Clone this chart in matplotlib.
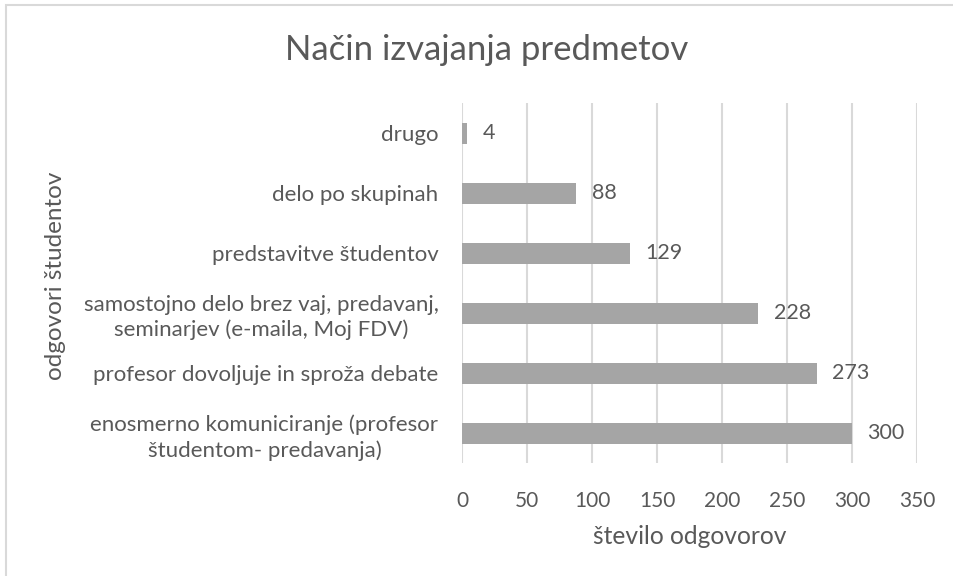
import matplotlib.pyplot as plt
from matplotlib.patches import Rectangle

# --- data ---
categories = [
    "enosmerno komuniciranje (profesor\nštudentom- predavanja)",
    "profesor dovoljuje in sproža debate",
    "samostojno delo brez vaj, predavanj,\nseminarjev (e-maila, Moj FDV)",
    "predstavitve študentov",
    "delo po skupinah",
    "drugo",
]
counts = [300, 273, 228, 129, 88, 4]
x_ticks = [0, 50, 100, 150, 200, 250, 300, 350]

title = "Način izvajanja predmetov"
x_label = "število odgovorov"
y_label = "odgovori študentov"

text_col = "#595959"
bar_col = "#A5A5A5"
grid_col = "#D9D9D9"
plt.rcParams['font.family'] = ['Lato', 'DejaVu Sans']

W, H = 954, 576
fig = plt.figure(figsize=(W / 100, H / 100), dpi=100)

# plot area in pixels: x 462..917, y 103..463
ax = fig.add_axes([462 / W, 1 - 463 / H, (917 - 462) / W, (463 - 103) / H])

ypos = list(range(len(categories)))
ax.barh(ypos, counts, height=0.35, color=bar_col, zorder=2)
for y, v in zip(ypos, counts):
    ax.annotate(str(v), (v, y), xytext=(11, 0), textcoords="offset points",
                va="center", ha="left", fontsize=15.5, color=text_col)

ax.set_xlim(0, 350)
ax.set_ylim(-0.5, len(categories) - 0.5)
ax.set_xticks(x_ticks)
ax.set_yticks(ypos)
ax.set_yticklabels(categories, fontsize=16)
for lbl in ax.get_yticklabels():
    lbl.set_multialignment("center")
    lbl.set_linespacing(1.3)
ax.tick_params(axis="both", length=0, labelcolor=text_col)
ax.tick_params(axis="x", pad=20, labelsize=15)
ax.tick_params(axis="y", pad=17)
ax.grid(axis="x", color=grid_col, linewidth=1.5, zorder=0)
for s in ax.spines.values():
    s.set_visible(False)

fig.text(487 / W, 1 - 50 / H, title, ha="center", va="center",
         fontsize=25, color=text_col)
fig.text(690 / W, 1 - 536 / H, x_label, ha="center", va="center",
         fontsize=17.7, color=text_col)
fig.text(56 / W, 1 - 276 / H, y_label, ha="center", va="center",
         rotation=90, fontsize=17.5, color=text_col)

# chart border (left and top visible)
fig.add_artist(Rectangle((6.5 / W, -0.1), 1.2, 1 - 4.5 / H + 0.1,
                         transform=fig.transFigure, fill=False,
                         edgecolor=grid_col, linewidth=1.5))

fig.savefig("out.png", dpi=100)
